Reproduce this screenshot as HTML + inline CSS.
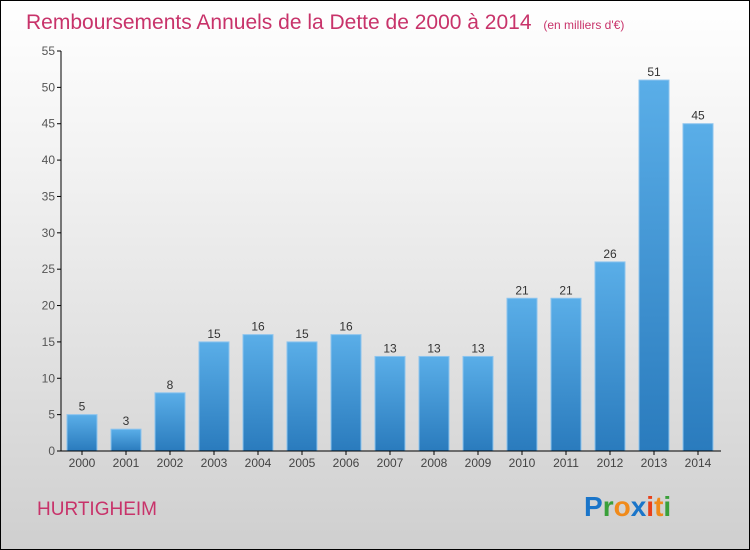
<!DOCTYPE html>
<html><head><meta charset="utf-8"><style>
body{margin:0}
#c{position:relative;width:748px;height:548px;border:1px solid #000;background:linear-gradient(#ffffff,#f2f2f2 30%,#cfcfcf);font-family:"Liberation Sans",sans-serif;overflow:hidden}
</style></head><body>
<div id="c">
<svg width="748" height="548" xmlns="http://www.w3.org/2000/svg">
<defs><linearGradient id="bg" x1="0" y1="0" x2="0" y2="1"><stop offset="0" stop-color="#5aaee8"/><stop offset="1" stop-color="#2a7bbd"/></linearGradient></defs>
<text x="25" y="28" font-size="21" fill="#c8336a">Remboursements Annuels de la Dette de 2000 à 2014 <tspan font-size="12" dx="6">(en milliers d'€)</tspan></text>
<g id="plot"></g>
<text x="36" y="514" font-size="19" fill="#c8336a">HURTIGHEIM</text>
<text x="583" y="515" font-size="28" font-weight="bold"><tspan fill="#1a75c9">P</tspan><tspan fill="#3aa03a">r</tspan><tspan fill="#f08a1a">o</tspan><tspan fill="#1a75c9">x</tspan><tspan fill="#e8401a">i</tspan><tspan fill="#f08a1a">t</tspan><tspan fill="#3aa03a">i</tspan></text>
</svg></div>
<script>
const categories=["2000","2001","2002","2003","2004","2005","2006","2007","2008","2009","2010","2011","2012","2013","2014"];
const values=[5,3,8,15,16,15,16,13,13,13,21,21,26,51,45];
const yTicks=[0,5,10,15,20,25,30,35,40,45,50,55];
const NS="http://www.w3.org/2000/svg";
const g=document.getElementById("plot");
const y=v=>450-v*400/55;
const x=i=>81+i*44;
function mk(t,a,txt){const e=document.createElementNS(NS,t);for(const k in a)e.setAttribute(k,a[k]);if(txt!==undefined)e.textContent=txt;g.appendChild(e);return e;}
yTicks.forEach(t=>{
 const l=mk("line",{x1:56,x2:60,y1:y(t),y2:y(t),stroke:"#000"});
 
 
 const tx=mk("text",{x:54,y:y(t)+4,"text-anchor":"end","font-size":12,fill:"#555"},String(t));
 
 
});
values.forEach((v,i)=>{
 const r=mk("rect",{x:x(i)-15,y:y(v),width:30,height:450-y(v),fill:"url(#bg)",stroke:"#8cc4ee","stroke-width":1});
 
 
 const vl=mk("text",{x:x(i),y:y(v)-4,"text-anchor":"middle","font-size":12,fill:"#333"},String(v));
 
 
 const tk=mk("line",{x1:x(i),x2:x(i),y1:450,y2:454,stroke:"#000"});
 
 
 const cl=mk("text",{x:x(i),y:466,"text-anchor":"middle","font-size":12,fill:"#444"},categories[i]);
 
 
});
const ya=mk("line",{x1:60,x2:60,y1:50,y2:450,stroke:"#000"});


const xa=mk("line",{x1:60,x2:720,y1:450,y2:450,stroke:"#000"});


</script>
</body></html>
